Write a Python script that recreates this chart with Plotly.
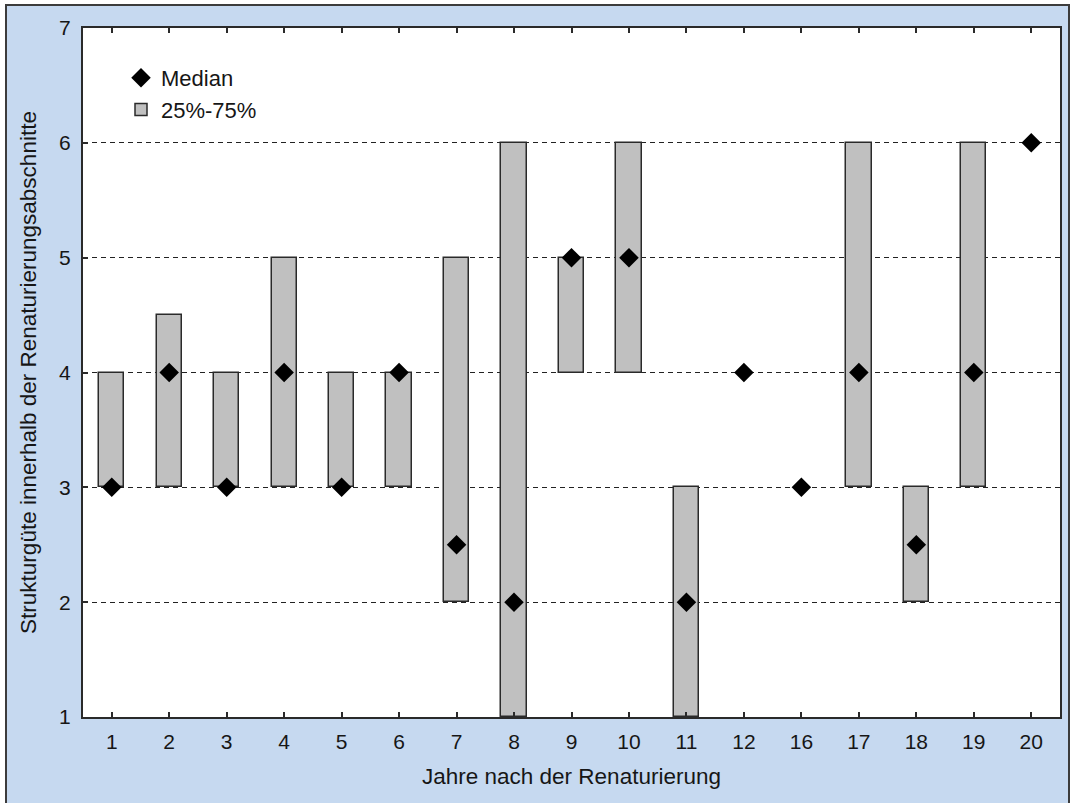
import plotly.graph_objects as go

# Jahre nach der Renaturierung (Kategorien)
jahre = ["1", "2", "3", "4", "5", "6", "7", "8", "9", "10", "11", "12", "16", "17", "18", "19", "20"]
# Median der Strukturgüte je Jahr
median = [3, 4, 3, 4, 3, 4, 2.5, 2, 5, 5, 2, 4, 3, 4, 2.5, 4, 6]
# Quartile 25 % und 75 %
q25 = [3, 3, 3, 3, 3, 3, 2, 1, 4, 4, 1, 4, 3, 3, 2, 3, 6]
q75 = [4, 4.5, 4, 5, 4, 4, 5, 6, 5, 6, 3, 4, 3, 6, 3, 6, 6]

y_ticks = [1, 2, 3, 4, 5, 6, 7]

FONT = "Liberation Sans, Arial, sans-serif"
BLUE = "#c6d9f0"
INK = "#161616"

hoehe = [b - a for a, b in zip(q25, q75)]
# Boxen ohne Spannweite werden nicht gezeichnet
hoehe_plot = [h if h > 0 else None for h in hoehe]

fig = go.Figure()

fig.add_trace(go.Bar(
    x=jahre, y=hoehe_plot, base=q25,
    width=0.44,
    marker=dict(color="#c0c0c0", line=dict(color="#2a2a2a", width=1.5)),
    name="25%-75%",
))

fig.add_trace(go.Scatter(
    x=jahre, y=median, mode="markers",
    marker=dict(symbol="diamond", size=15, color="black"),
    name="Median",
))

W, H = 1078, 803
ml, mr, mt, mb = 83, 18, 28, 86
pw, ph = W - ml - mr, H - mt - mb


def px_x(p):
    return (p - ml) / pw


def px_y(p):
    return (H - mb - p) / ph


shapes = [
    # weisse Ränder ausserhalb des Rahmens
    dict(type="rect", xref="paper", yref="paper", x0=px_x(-5), x1=px_x(6), y0=px_y(820), y1=px_y(-5),
         fillcolor="white", line=dict(width=0), layer="above"),
    dict(type="rect", xref="paper", yref="paper", x0=px_x(-5), x1=px_x(1090), y0=px_y(5), y1=px_y(-5),
         fillcolor="white", line=dict(width=0), layer="above"),
    dict(type="rect", xref="paper", yref="paper", x0=px_x(1069), x1=px_x(1090), y0=px_y(820), y1=px_y(-5),
         fillcolor="white", line=dict(width=0), layer="above"),
    # Rahmen um die Grafik
    dict(type="rect", xref="paper", yref="paper", x0=px_x(6), x1=px_x(1069), y0=px_y(830), y1=px_y(5),
         fillcolor="rgba(0,0,0,0)", line=dict(color="#3c3c3c", width=2), layer="above"),
]

fig.update_layout(
    width=W, height=H,
    margin=dict(l=ml, r=mr, t=mt, b=mb),
    paper_bgcolor=BLUE,
    plot_bgcolor="white",
    font=dict(family=FONT, size=22, color=INK),
    showlegend=True,
    legend=dict(
        x=px_x(121), y=px_y(57), xanchor="left", yanchor="top",
        bgcolor="rgba(0,0,0,0)", font=dict(size=22, color=INK),
        traceorder="reversed", itemwidth=30, tracegroupgap=0,
    ),
    bargap=0,
    shapes=shapes,
)

fig.update_xaxes(
    type="category", range=[-0.5, 16.5],
    showgrid=False, zeroline=False,
    showline=True, linecolor="#2a2a2a", linewidth=2, mirror="ticks",
    ticks="inside", ticklen=5, tickwidth=1.5, tickcolor="#2a2a2a",
    tickfont=dict(size=21, color=INK), ticklabelstandoff=5,
    title=dict(text="Jahre nach der Renaturierung", font=dict(size=22.5, color=INK), standoff=16),
)

fig.update_yaxes(
    range=[1, 7], tickvals=y_ticks,
    showgrid=True, gridcolor="#222222", gridwidth=1, griddash="5px,4px",
    zeroline=False,
    showline=True, linecolor="#2a2a2a", linewidth=2, mirror=True,
    ticks="inside", ticklen=5, tickwidth=1.5, tickcolor="#2a2a2a",
    tickfont=dict(size=21, color=INK), ticklabelstandoff=6,
    title=dict(text="Strukturgüte innerhalb der Renaturierungsabschnitte", font=dict(size=22.5, color=INK), standoff=16),
)

fig.write_html("out.html")
